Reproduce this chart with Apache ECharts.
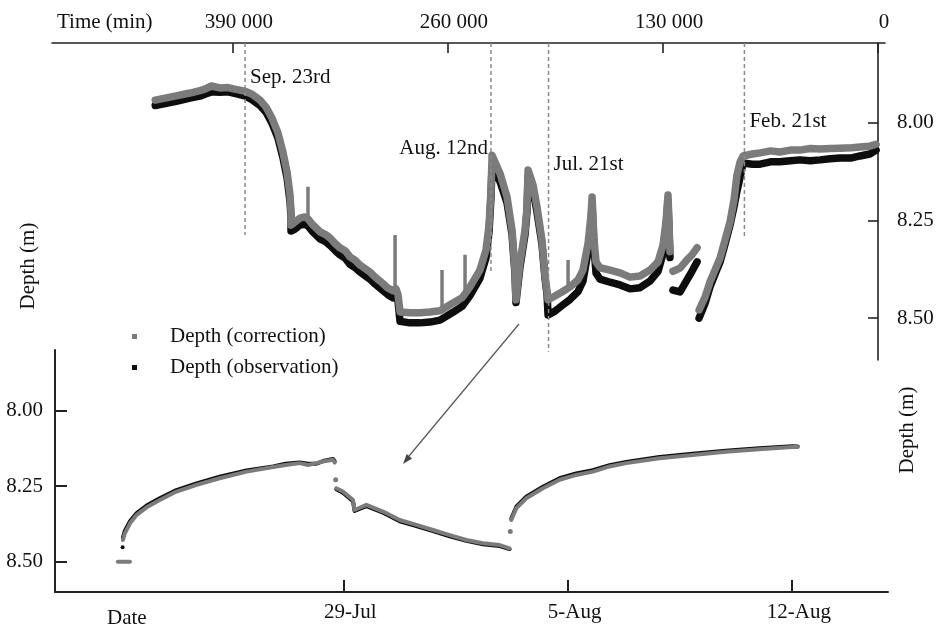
<!DOCTYPE html>
<html>
<head>
<meta charset="utf-8">
<script src="https://cdn.jsdelivr.net/npm/echarts@6/dist/echarts.min.js"></script>
<style>
  html, body { margin: 0; padding: 0; background: #fff; }
  #chart { width: 938px; height: 629px; }
</style>
</head>
<body>
<div id="chart"></div>
<script>
// tick labels
const timeTicks = [390000, 260000, 130000, 0];
const depthTicks = [8.00, 8.25, 8.50];
const dateTickDays = [9, 16, 23];          // days after 20-Jul
const dateTickLabels = ['29-Jul', '5-Aug', '12-Aug'];

// top panel: time before end (min), depth (m); null = gap
const topCorrection = [
  [437000,7.942],[431000,7.937],[425000,7.932],[416000,7.924],[410000,7.918],[407000,7.914],[403000,7.906],[398000,7.911],[393000,7.910],[389000,7.914],[383000,7.919],[378500,7.927],[373700,7.942],[370000,7.960],[366400,7.988],[362800,8.026],[359800,8.075],[357300,8.126],[355500,8.185],[354900,8.228],
  [354900,8.262],[352500,8.254],[349500,8.244],[346500,8.241],[344650,8.246],[342200,8.259],[337400,8.279],[334000,8.286],[331300,8.295],[328000,8.310],[325300,8.320],[322000,8.328],[319300,8.343],[316000,8.352],[313200,8.364],[307200,8.382],[304000,8.395],[301100,8.405],[296300,8.423],[293300,8.430],[291400,8.425],[290200,8.440],
  [289000,8.484],[283000,8.486],[276900,8.486],[270900,8.484],[264800,8.481],[257000,8.461],[251500,8.448],[246700,8.420],[240700,8.377],[237000,8.325],[235200,8.262],[234000,8.172],[233400,8.095],
  [233400,8.083],[228600,8.129],[224300,8.190],[221300,8.274],[219500,8.377],[218900,8.453],
  [216500,8.359],[213400,8.274],[212200,8.215],
  [211600,8.121],[208600,8.159],[206200,8.215],[203200,8.300],[201300,8.394],[200100,8.433],
  [199500,8.453],[195300,8.443],[191100,8.433],[186200,8.420],[181400,8.402],[178400,8.377],[175300,8.308],[173500,8.236],[172900,8.190],
  [171700,8.300],[170500,8.356],[168100,8.371],[162000,8.377],[156000,8.384],[150000,8.395],[143900,8.392],[137900,8.377],[133000,8.356],[130000,8.313],[128200,8.254],[127000,8.185],[125800,8.330],
  null,
  [124000,8.380],[119700,8.372],[115500,8.351],[112500,8.338],[109400,8.320],
  null,
  [108200,8.479],[104600,8.446],[101600,8.407],[98600,8.377],[95500,8.346],[92500,8.300],[89500,8.254],[87100,8.198],[85300,8.134],[83400,8.100],[81600,8.085],
  [76000,8.080],[71300,8.077],[65000,8.072],[59300,8.075],[53000,8.070],[47200,8.070],[41000,8.066],[35100,8.067],[29000,8.066],[23000,8.065],[16000,8.064],[10900,8.062],[5000,8.060],[1200,8.055]
];
const topObservation = [
  [437000,7.956],[431000,7.951],[425000,7.946],[416000,7.937],[410000,7.932],[407000,7.927],[403000,7.921],[398000,7.922],[393000,7.921],[389000,7.925],[383000,7.931],[378500,7.941],[373700,7.956],[370000,7.973],[366400,8.001],[362800,8.039],[359800,8.089],[357300,8.141],[355500,8.201],[354900,8.241],
  [354900,8.277],[352500,8.272],[349500,8.262],[346500,8.260],[344650,8.264],[342200,8.277],[337400,8.297],[334000,8.304],[331300,8.314],[328000,8.328],[325300,8.338],[322000,8.347],[319300,8.362],[316000,8.371],[313200,8.382],[307200,8.400],[304000,8.413],[301100,8.423],[296300,8.440],[293300,8.448],[291400,8.444],[290200,8.457],
  [289000,8.508],[283000,8.512],[276900,8.512],[270900,8.510],[264800,8.505],[257000,8.485],[251500,8.470],[246700,8.442],[240700,8.398],[237000,8.345],[235200,8.280],[234000,8.190],[233400,8.112],
  [233400,8.116],[228600,8.150],[224300,8.205],[221300,8.285],[219500,8.385],[218900,8.460],
  [216500,8.370],[213400,8.285],[212200,8.225],
  [211600,8.140],[208600,8.172],[206200,8.228],[203200,8.310],[201300,8.400],[200100,8.440],
  [199500,8.492],[195300,8.482],[191100,8.468],[186200,8.452],[181400,8.432],[178400,8.405],[175300,8.330],[173500,8.255],[172900,8.210],
  [171700,8.320],[170500,8.385],[168100,8.400],[162000,8.408],[156000,8.415],[150000,8.425],[143900,8.422],[137900,8.405],[133000,8.380],[130000,8.335],[128200,8.270],[127000,8.200],[125800,8.345],
  null,
  [124000,8.428],[119700,8.433],[115500,8.402],[112500,8.380],[109400,8.356],
  null,
  [108200,8.500],[104600,8.462],[101600,8.420],[98600,8.388],[95500,8.356],[92500,8.310],[89500,8.262],[87100,8.215],[85300,8.175],[83400,8.140],[81600,8.103],
  [76000,8.106],[71300,8.106],[65000,8.100],[59300,8.100],[53000,8.097],[47200,8.095],[41000,8.097],[35100,8.095],[29000,8.092],[23000,8.090],[16000,8.090],[10900,8.085],[5000,8.080],[1200,8.070]
];
// short vertical spikes: time, base depth, tip depth
const topSpikes = [
  [344650, 8.246, 8.164],
  [292000, 8.425, 8.287],
  [263600, 8.481, 8.377],
  [249700, 8.448, 8.338],
  [187400, 8.420, 8.351]
];

// dated events
const eventNames = ['Sep. 23rd', 'Aug. 12nd', 'Jul. 21st', 'Feb. 21st'];
const eventTime = [382700, 234000, 199200, 80800];
const eventLineEnd = [8.287, 8.384, 8.586, 8.292];
const eventLabelDepth = [7.883, 8.065, 8.106, 7.998];

// bottom panel: days after 20-Jul, depth (m)
const bottomCorrection = [
  [1.96,8.500],[2.34,8.500],
  null,
  [2.12,8.428],[2.18,8.406],[2.34,8.373],[2.55,8.345],[2.86,8.320],[3.27,8.296],[3.79,8.268],[4.42,8.246],[5.14,8.224],[5.98,8.202],[6.81,8.187],[7.20,8.180],[7.64,8.174],[7.90,8.180],[8.16,8.174],[8.40,8.168],[8.68,8.163],[8.73,8.172],
  null,
  [8.78,8.257],[8.99,8.268],[9.30,8.296],[9.35,8.329],[9.72,8.312],[10.24,8.334],[10.76,8.362],[11.28,8.378],[11.80,8.395],[12.32,8.412],[12.84,8.428],[13.36,8.439],[13.88,8.445],[14.19,8.456],
  null,
  [14.24,8.362],[14.40,8.323],[14.71,8.290],[15.23,8.257],[15.75,8.229],[16.27,8.213],[16.79,8.202],[17.31,8.185],[17.83,8.174],[18.87,8.158],[19.90,8.147],[20.94,8.136],[21.98,8.128],[23.02,8.121],[23.18,8.121]
];
const bottomObservation = [
  [2.12,8.420],[2.18,8.398],[2.34,8.366],[2.55,8.339],[2.86,8.314],[3.27,8.290],[3.79,8.263],[4.42,8.241],[5.14,8.219],[5.98,8.198],[6.81,8.185],[7.20,8.176],[7.64,8.172],[7.90,8.176],[8.16,8.176],[8.40,8.166],[8.68,8.160],[8.73,8.168],
  null,
  [8.78,8.260],[8.99,8.272],[9.30,8.300],[9.35,8.332],[9.72,8.316],[10.24,8.338],[10.76,8.366],[11.28,8.382],[11.80,8.399],[12.32,8.416],[12.84,8.431],[13.36,8.442],[13.88,8.448],[14.19,8.458],
  null,
  [14.24,8.358],[14.40,8.318],[14.71,8.285],[15.23,8.252],[15.75,8.224],[16.27,8.208],[16.79,8.197],[17.31,8.181],[17.83,8.170],[18.87,8.154],[19.90,8.143],[20.94,8.133],[21.98,8.125],[23.02,8.118],[23.18,8.119]
];
const bottomDotsCorrection = [[8.76,8.229],[14.21,8.400]];
const bottomDotsObservation = [[2.11,8.452]];

const FONT = "'Liberation Serif', 'Times New Roman', serif";
const GRAY = '#7b7b7b';
const BLACK = '#0d0d0d';
const CORR = 'Depth (correction)';
const OBS = 'Depth (observation)';

function splitSegments(arr) {
  const segs = [[]];
  arr.forEach(p => {
    if (p === null) segs.push([]);
    else segs[segs.length - 1].push(p);
  });
  return segs.filter(s => s.length);
}

function lineSeries(name, data, color, width, axis, z) {
  return splitSegments(data).map(seg => ({
    name: name,
    type: 'line',
    xAxisIndex: axis, yAxisIndex: axis,
    data: seg,
    showSymbol: false,
    silent: true,
    z: z,
    itemStyle: { color: color },
    lineStyle: { color: color, width: width, cap: 'round', join: 'round' }
  }));
}

const series = [];
series.push(...lineSeries(OBS, topObservation, BLACK, 7.5, 0, 2));
series.push(...lineSeries(CORR, topCorrection, GRAY, 7.5, 0, 3));
topSpikes.forEach(s => {
  series.push({
    name: CORR, type: 'line', xAxisIndex: 0, yAxisIndex: 0,
    data: [[s[0], s[1]], [s[0], s[2]]],
    showSymbol: false, silent: true, z: 3,
    itemStyle: { color: GRAY },
    lineStyle: { color: GRAY, width: 3.5 }
  });
});
series.push(...lineSeries(OBS, bottomObservation, BLACK, 4, 1, 2));
series.push(...lineSeries(CORR, bottomCorrection, GRAY, 4, 1, 3));
series.push({
  name: CORR, type: 'scatter', xAxisIndex: 1, yAxisIndex: 1, silent: true, z: 3,
  symbolSize: 5, itemStyle: { color: GRAY, opacity: 1 }, data: bottomDotsCorrection
});
series.push({
  name: OBS, type: 'scatter', xAxisIndex: 1, yAxisIndex: 1, silent: true, z: 3,
  symbolSize: 4, itemStyle: { color: BLACK, opacity: 1 }, data: bottomDotsObservation
});

// dashed event lines and their labels
eventNames.forEach((name, i) => {
  series.push({
    type: 'line', xAxisIndex: 0, yAxisIndex: 0, silent: true, z: 5,
    data: [[eventTime[i], 7.796], [eventTime[i], eventLineEnd[i]]],
    showSymbol: false,
    lineStyle: { color: '#8a8a8a', width: 1.5, type: [4, 3] }
  });
  const rightAlign = name === 'Aug. 12nd';
  series.push({
    type: 'scatter', xAxisIndex: 0, yAxisIndex: 0, silent: true, z: 6,
    symbolSize: 0,
    itemStyle: { opacity: 1 },
    data: [[eventTime[i], eventLabelDepth[i]]],
    label: {
      show: true, formatter: name,
      position: [0, 0],
      align: rightAlign ? 'right' : 'left',
      verticalAlign: 'middle',
      offset: [rightAlign ? -3 : 5, 0],
      fontFamily: FONT, fontSize: 21, color: '#111', opacity: 1
    }
  });
});

const axisLine = { show: true, lineStyle: { color: '#222', width: 1.6 } };
const labelStyle = { fontFamily: FONT, fontSize: 21, color: '#111' };

const chart = echarts.init(document.getElementById('chart'));
chart.setOption({
  animation: false,
  backgroundColor: '#fff',
  grid: [
    { left: 52, right: 53, top: 43, height: 317 },
    { left: 55, right: 50, top: 350, height: 242 }
  ],
  xAxis: [
    {
      gridIndex: 0, type: 'value', position: 'top', inverse: true,
      min: -4200, max: 499400,
      axisLine: axisLine,
      axisTick: { show: true, inside: true, length: 10, customValues: timeTicks, lineStyle: { color: '#222', width: 1.6 } },
      axisLabel: Object.assign({
        customValues: timeTicks, margin: 10, padding: [0, 0, 0, 12],
        formatter: v => String(v).replace(/\B(?=(\d{3})+(?!\d))/g, ' ')
      }, labelStyle),
      splitLine: { show: false }
    },
    {
      gridIndex: 1, type: 'value', position: 'bottom',
      min: 0, max: 26,
      axisLine: { show: true, lineStyle: { color: '#222', width: 2 } },
      axisTick: { show: true, inside: true, length: 12, customValues: dateTickDays, lineStyle: { color: '#222', width: 2 } },
      axisLabel: Object.assign({
        customValues: dateTickDays, margin: 10, padding: [0, 0, 0, 14],
        formatter: v => dateTickLabels[dateTickDays.indexOf(v)]
      }, labelStyle),
      splitLine: { show: false }
    }
  ],
  yAxis: [
    {
      gridIndex: 0, type: 'value', position: 'right', inverse: true,
      min: 7.796, max: 8.607,
      axisLine: axisLine,
      axisTick: { show: true, inside: true, length: 10, customValues: depthTicks, lineStyle: { color: '#222', width: 1.6 } },
      axisLabel: Object.assign({ customValues: depthTicks, margin: 12, formatter: v => v.toFixed(2) }, labelStyle),
      splitLine: { show: false }
    },
    {
      gridIndex: 1, type: 'value', position: 'left', inverse: true,
      min: 7.80, max: 8.60,
      axisLine: { show: true, lineStyle: { color: '#222', width: 2 } },
      axisTick: { show: true, inside: true, length: 12, customValues: depthTicks, lineStyle: { color: '#222', width: 2 } },
      axisLabel: Object.assign({ customValues: depthTicks, margin: 12, formatter: v => v.toFixed(2) }, labelStyle),
      splitLine: { show: false }
    }
  ],
  legend: {
    orient: 'vertical', left: 127, top: 321,
    icon: 'rect', itemWidth: 5, itemHeight: 5, itemGap: 10,
    selectedMode: false,
    data: [
      { name: CORR, itemStyle: { color: GRAY } },
      { name: OBS, itemStyle: { color: BLACK } }
    ],
    textStyle: { fontFamily: FONT, fontSize: 21, color: '#111', padding: [0, 0, 0, 28] }
  },
  graphic: [
    { type: 'text', left: 57, top: 12, style: { text: 'Time (min)', font: '21px ' + FONT, fill: '#111' } },
    { type: 'text', x: 28, y: 266, rotation: Math.PI / 2,
      style: { text: 'Depth (m)', font: '21px ' + FONT, fill: '#111', align: 'center', verticalAlign: 'middle' } },
    { type: 'text', x: 907, y: 430, rotation: Math.PI / 2,
      style: { text: 'Depth (m)', font: '21px ' + FONT, fill: '#111', align: 'center', verticalAlign: 'middle' } },
    { type: 'text', left: 107, top: 608, style: { text: 'Date', font: '21px ' + FONT, fill: '#111' } },
    { type: 'line', shape: { x1: 519, y1: 324, x2: 409, y2: 456 }, style: { stroke: '#555', lineWidth: 1.2 } },
    { type: 'polygon', shape: { points: [[403, 464], [412.1, 458.5], [406.7, 454.1]] }, style: { fill: '#444' } }
  ],
  series: series
});
</script>
</body>
</html>
